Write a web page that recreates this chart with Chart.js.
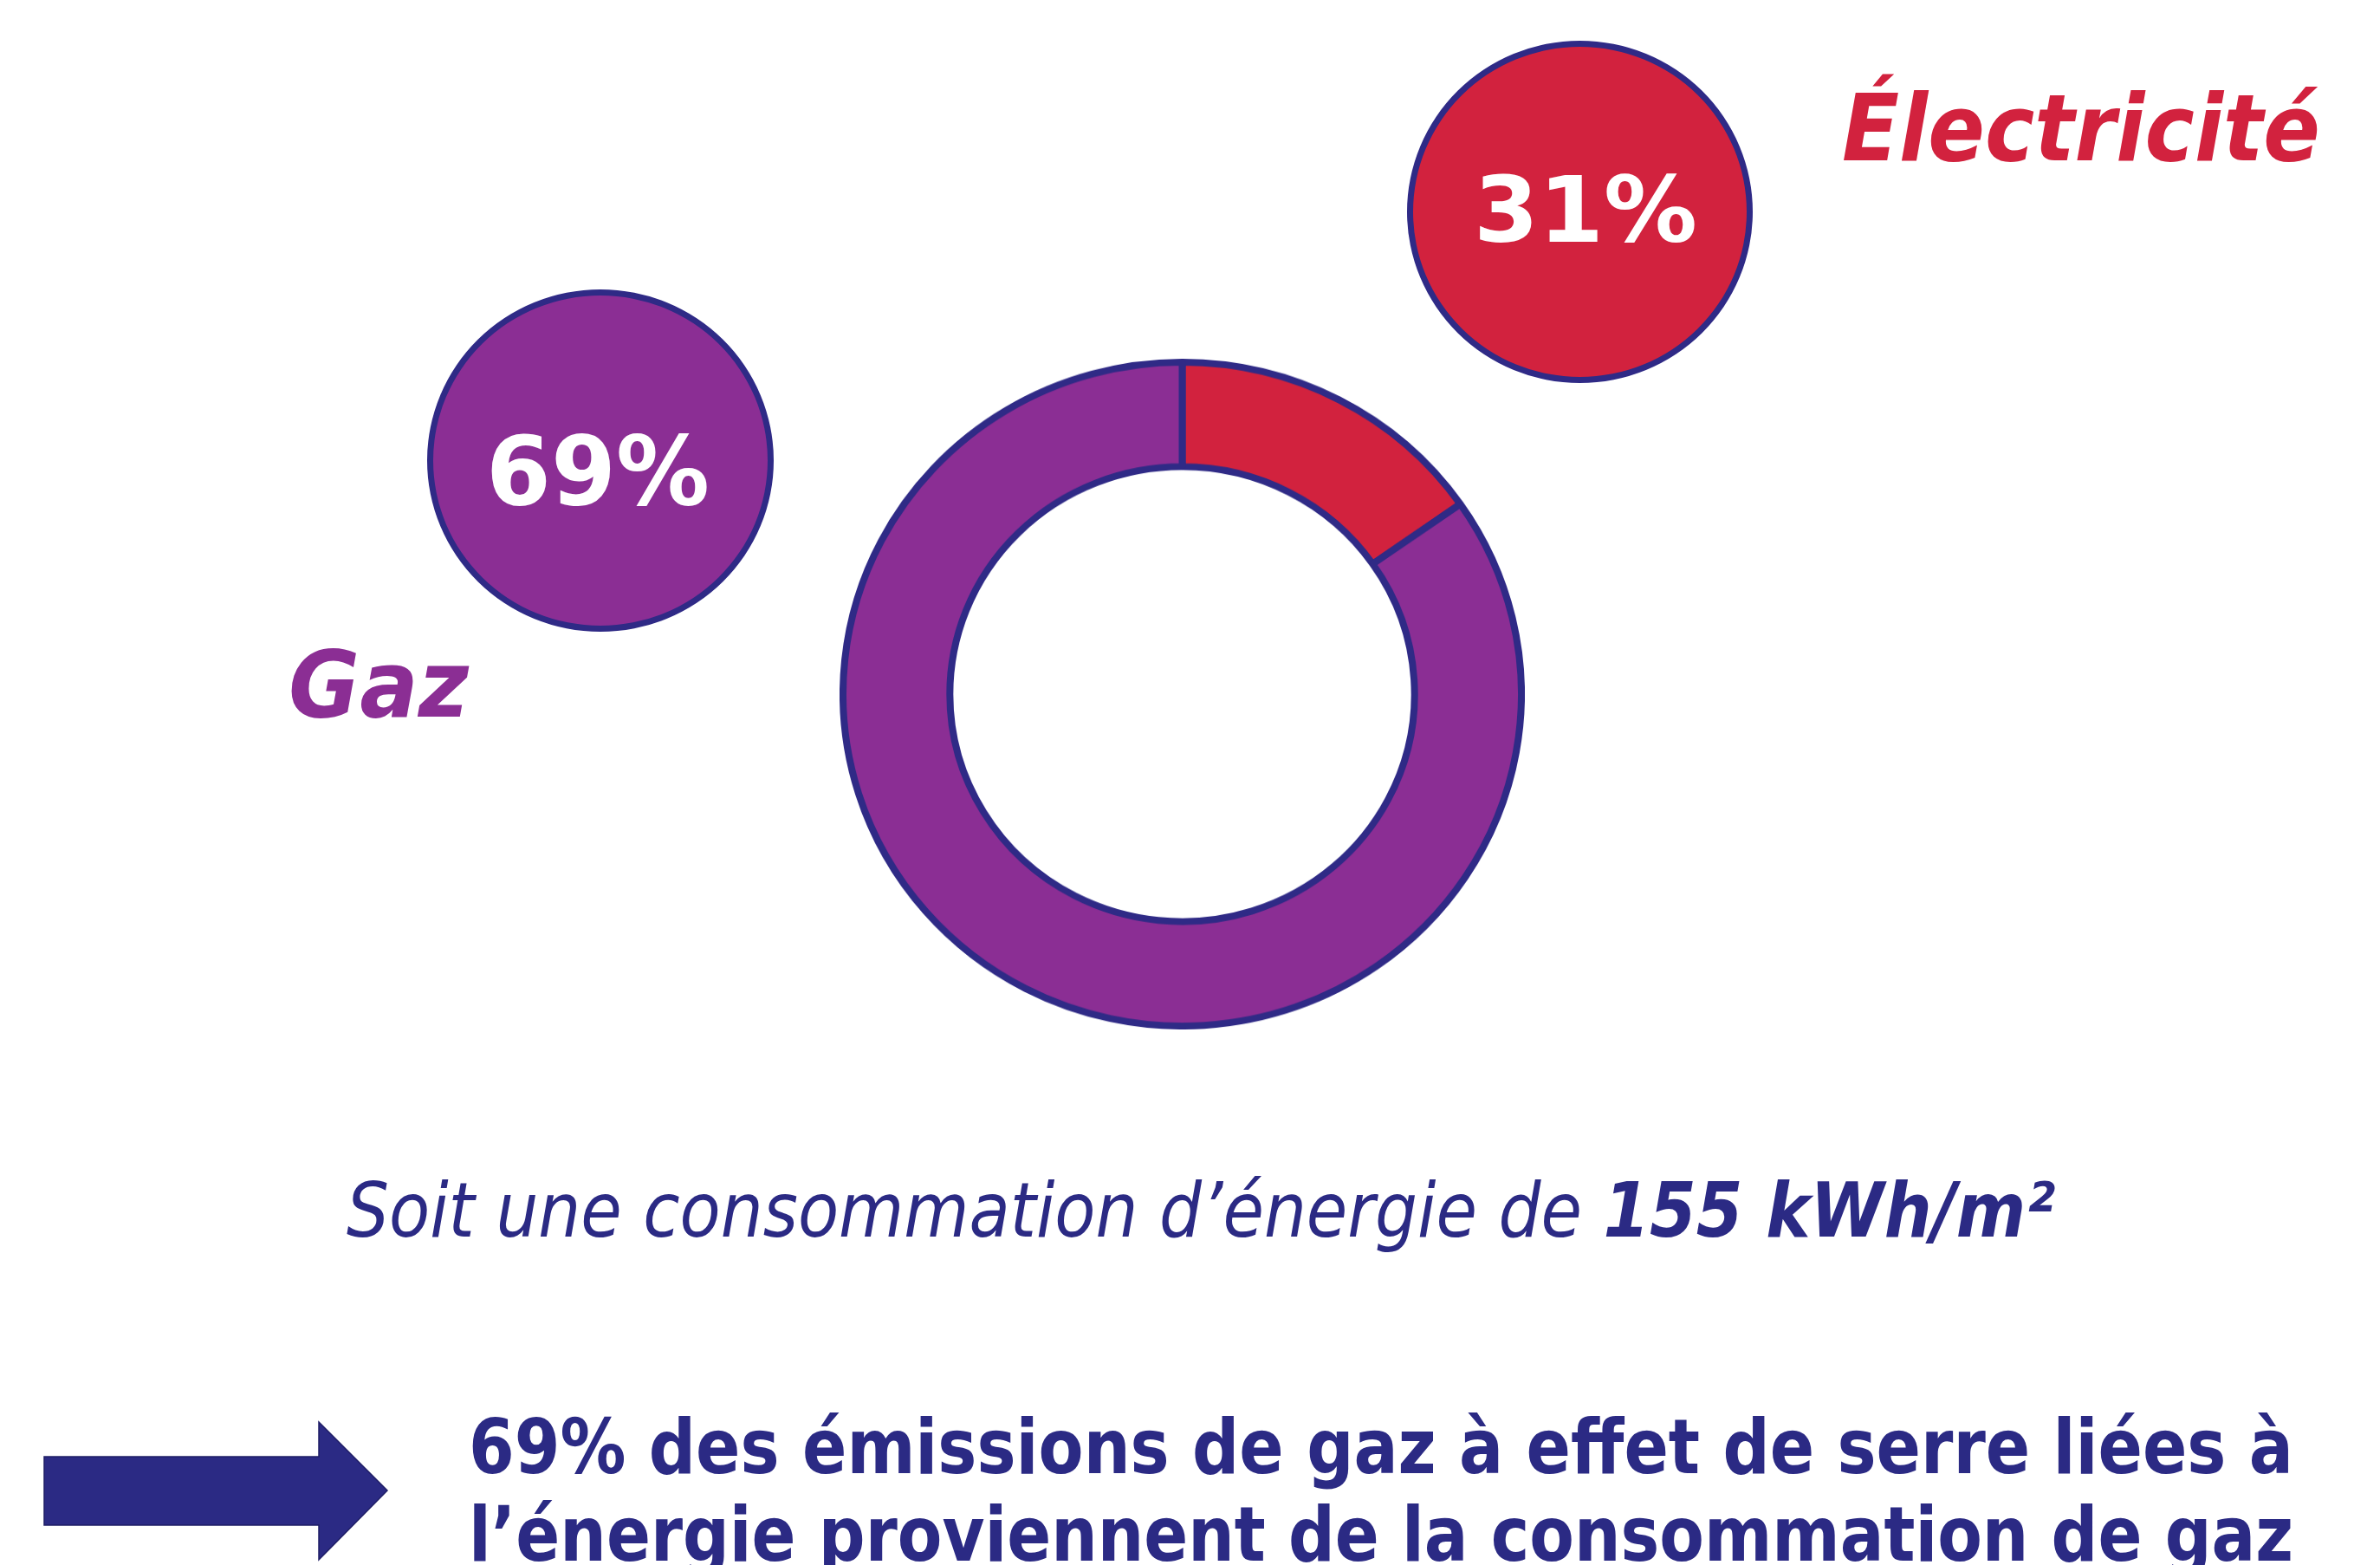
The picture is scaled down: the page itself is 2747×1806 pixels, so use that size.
<!DOCTYPE html>
<html lang="fr">
<head>
<meta charset="utf-8">
<title>Consommation d'énergie</title>
<script src="https://cdn.jsdelivr.net/npm/chart.js@4.4.0/dist/chart.umd.min.js"></script>
<style>
  html, body { margin: 0; padding: 0; background: #fff; }
  body { width: 2747px; height: 1806px; position: relative; overflow: hidden; font-family: "DejaVu Sans", Verdana, sans-serif; }
  .txt { position: absolute; white-space: nowrap; line-height: 1; transform-origin: 0 0; }
  .bold { font-weight: bold; }
  .ital { font-style: italic; }
  #ringBox { position: absolute; left: 969px; top: 414px; width: 791px; height: 791px; transform-origin: 0 0; transform: scaleY(0.9785); }
  .bubble { position: absolute; border: 7px solid #2f2a86; border-radius: 50%; box-sizing: border-box; }
  #arrow { position: absolute; left: 0; top: 0; }
</style>
</head>
<body>

<div class="bubble" id="bubbleGaz" style="left:493px; top:334px; width:400px; height:395px; background:#8b2e94;"></div>
<div class="bubble" id="bubbleElec" style="left:1624px; top:47px; width:399px; height:395px; background:#d2223e;"></div>

<div id="ringBox"><canvas id="ring" width="791" height="791"></canvas></div>

<div class="txt bold" id="pctGaz" data-w="258" style="left:561px; top:489px; font-size:110px; color:#fff;"></div>
<div class="txt bold" id="pctElec" data-w="258" style="left:1701px; top:190px; font-size:106px; color:#fff;"></div>
<div class="txt bold ital" id="nameElec" data-w="552" style="left:2126px; top:95px; font-size:107px; color:#d2223e;"></div>
<div class="txt bold ital" id="nameGaz" data-w="208" style="left:333px; top:737px; font-size:107px; color:#8b2e94;"></div>

<div class="txt ital" id="subtitle" data-w="1972" style="left:400px; top:1353px; font-size:88px; color:#2b2a84;">Soit une consommation d’énergie de <b>155 kWh/m²</b></div>

<svg id="arrow" width="500" height="1806">
  <polygon points="51,1681 368,1681 368,1641 447,1720 368,1800 368,1760 51,1760" fill="#2b2a84" stroke="#1f1e66" stroke-width="1.5"/>
</svg>

<div class="txt bold" id="line1" data-w="2106" style="left:541px; top:1626px; font-size:88px; color:#2b2a84;">69% des émissions de gaz à effet de serre liées à</div>
<div class="txt bold" id="line2" data-w="2106" style="left:541px; top:1727px; font-size:88px; color:#2b2a84;">l’énergie proviennent de la consommation de gaz</div>

<script>
// Doughnut: arc shares as drawn in the picture, starting at 12 o'clock
const categories = ['Électricité', 'Gaz'];
const sliceShares = [15.3, 84.7];
// Percentages printed in the bubbles
const shareLabels = ['31%', '69%'];

const sliceColors = ['#d2223e', '#8b2e94'];

document.getElementById('pctElec').textContent = shareLabels[0];
document.getElementById('pctGaz').textContent = shareLabels[1];
document.getElementById('nameElec').textContent = categories[0];
document.getElementById('nameGaz').textContent = categories[1];

new Chart(document.getElementById('ring'), {
    type: 'doughnut',
    data: {
        labels: categories,
        datasets: [{
            data: sliceShares,
            backgroundColor: sliceColors,
            borderColor: '#2f2a86',
            borderWidth: 8,
            hoverOffset: 0
        }]
    },
    options: {
        responsive: false,
        animation: false,
        cutout: '68.5%',
        layout: { padding: 0 },
        plugins: {
            legend: { display: false },
            tooltip: { enabled: false }
        }
    }
});

// squeeze each text run to the width it has in the reference
function fitTexts() {
    document.querySelectorAll('.txt[data-w]').forEach(el => {
        el.style.transform = 'none';
        const w = el.getBoundingClientRect().width;
        const target = parseFloat(el.dataset.w);
        if (w > 0) el.style.transform = `scaleX(${target / w})`;
    });
}

fitTexts();
if (document.fonts && document.fonts.ready) document.fonts.ready.then(fitTexts);
</script>
</body>
</html>
